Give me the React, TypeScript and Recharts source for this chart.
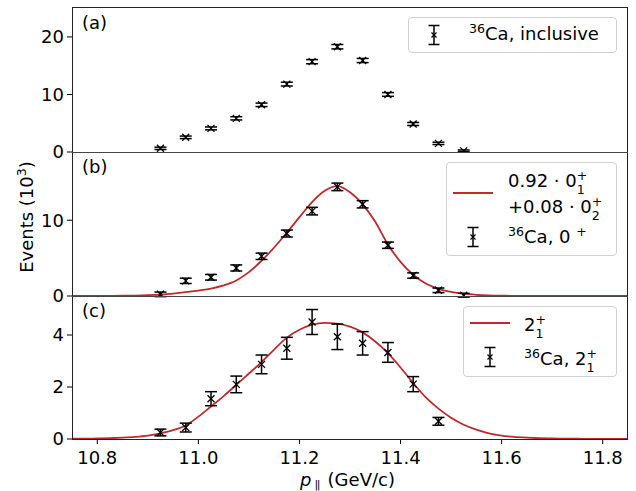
import React from "react";
import { ComposedChart, Line, Scatter, ErrorBar, XAxis, YAxis } from "recharts";

// bin centres (GeV/c)
const binX = [10.925, 10.975, 11.025, 11.075, 11.125, 11.175, 11.225, 11.275, 11.325, 11.375, 11.425, 11.475, 11.525];

// (a) inclusive, 10^3 events
const inclusive = [0.64, 2.55, 4.1, 5.85, 8.2, 11.8, 15.7, 18.3, 15.9, 10.0, 4.87, 1.5, 0.2];
const inclusiveErr = [0.2, 0.22, 0.25, 0.28, 0.3, 0.33, 0.36, 0.38, 0.36, 0.32, 0.26, 0.2, 0.15];

// (b) 0+
const zeroPlus = [0.22, 2.0, 2.47, 3.7, 5.24, 8.24, 11.2, 14.4, 12.1, 6.7, 2.7, 0.75, 0.1];
const zeroPlusErr = [0.3, 0.35, 0.37, 0.4, 0.42, 0.46, 0.5, 0.5, 0.48, 0.42, 0.35, 0.3, 0.25];

// (c) 2+
const twoPlus = [0.25, 0.44, 1.55, 2.1, 2.87, 3.49, 4.5, 3.93, 3.68, 3.33, 2.11, 0.68];
const twoPlusErr = [0.13, 0.17, 0.27, 0.32, 0.36, 0.42, 0.48, 0.49, 0.45, 0.38, 0.29, 0.15];

// fitted shapes
const curveX = [
  10.75, 10.775, 10.8, 10.825, 10.85, 10.875, 10.9, 10.925, 10.95, 10.975,
  11.0, 11.025, 11.05, 11.075, 11.1, 11.125, 11.15, 11.175, 11.2, 11.225,
  11.25, 11.275, 11.3, 11.325, 11.35, 11.375, 11.4, 11.425, 11.45, 11.475,
  11.5, 11.525, 11.55, 11.575, 11.6, 11.625, 11.65, 11.675, 11.7, 11.725,
  11.75, 11.775, 11.8, 11.825, 11.85,
];
const fitZero = [
  0, 0, 0.01, 0.02, 0.03, 0.06, 0.11, 0.19, 0.32, 0.5,
  0.72, 0.98, 1.4, 2.05, 3.15, 4.65, 6.4, 8.35, 10.4, 12.4,
  13.9, 14.5, 13.7, 12.1, 9.8, 6.8, 4.5, 2.8, 1.65, 0.95,
  0.55, 0.3, 0.16, 0.08, 0.04, 0.02, 0.01, 0, 0, 0,
  0, 0, 0, 0, 0,
];
const fitTwo = [
  0.01, 0.01, 0.02, 0.03, 0.05, 0.08, 0.13, 0.22, 0.34, 0.52,
  0.86, 1.25, 1.65, 2.08, 2.52, 2.96, 3.44, 3.9, 4.2, 4.4,
  4.47, 4.44, 4.32, 4.1, 3.75, 3.3, 2.75, 2.15, 1.6, 1.17,
  0.82, 0.55, 0.36, 0.22, 0.13, 0.08, 0.05, 0.03, 0.02, 0.01,
  0.01, 0, 0, 0, 0,
];

const xTicks = [10.8, 11.0, 11.2, 11.4, 11.6, 11.8];
const yTicksA = [0, 10, 20];
const yTicksB = [0, 10];
const yTicksC = [0, 2, 4];

const RED = "#bd2a2e";
const FONT = "'DejaVu Sans', sans-serif";
const PAD = 12; // extra svg room so edge tick labels are not cut

const toPoints = (vals: number[], errs: number[]) =>
  vals.map((v, i) => ({ x: binX[i], y: v, err: errs[i] }));
const toCurve = (vals: number[]) => curveX.map((x, i) => ({ x, y: vals[i] }));

function XMark(props: any) {
  const { cx, cy } = props;
  if (cx == null || cy == null) return null;
  const r = 3.5;
  return (
    <path
      d={`M${cx - r},${cy - r}L${cx + r},${cy + r}M${cx - r},${cy + r}L${cx + r},${cy - r}`}
      stroke="#000"
      strokeWidth={1.3}
      fill="none"
    />
  );
}

type PanelProps = {
  plotTop: number;
  plotHeight: number;
  bottomAxis: boolean;
  yDomain: [number, number];
  yTicks: number[];
  points: { x: number; y: number; err: number }[];
  fit?: { x: number; y: number }[];
};

function Panel({ plotTop, plotHeight, bottomAxis, yDomain, yTicks, points, fit }: PanelProps) {
  const axisH = bottomAxis ? 52 : 0;
  const bottom = bottomAxis ? 0 : PAD;
  return (
    <div style={{ position: "absolute", left: 0, top: plotTop - PAD }}>
      <ComposedChart
        width={636}
        height={PAD + plotHeight + axisH + bottom}
        margin={{ top: PAD, right: 8, bottom, left: 0 }}
      >
        <XAxis
          dataKey="x"
          type="number"
          domain={[10.75, 11.85]}
          ticks={xTicks}
          allowDataOverflow
          hide={!bottomAxis}
          height={axisH}
          axisLine={false}
          tickSize={5}
          tickMargin={7}
          tickLine={{ stroke: "#000" }}
          tick={{ fill: "#000", fontSize: 18, fontFamily: FONT }}
          tickFormatter={(v: number) => v.toFixed(1)}
        />
        <YAxis
          type="number"
          domain={yDomain}
          ticks={yTicks}
          interval={0}
          allowDataOverflow
          width={72}
          axisLine={false}
          tickSize={5}
          tickMargin={3}
          tickLine={{ stroke: "#000" }}
          tick={{ fill: "#000", fontSize: 18, fontFamily: FONT }}
        />
        {fit && (
          <Line
            data={fit}
            dataKey="y"
            type="monotone"
            stroke={RED}
            strokeWidth={1.8}
            dot={false}
            isAnimationActive={false}
          />
        )}
        <Scatter data={points} dataKey="y" shape={XMark} isAnimationActive={false}>
          <ErrorBar dataKey="err" direction="y" width={6} stroke="#000" strokeWidth={1.5} />
        </Scatter>
      </ComposedChart>
    </div>
  );
}

function ErrIcon() {
  return (
    <svg width={14} height={22} style={{ display: "block" }}>
      <path d="M7,1.5V20.5M1.5,1.5H12.5M1.5,20.5H12.5" stroke="#000" strokeWidth={1.5} fill="none" />
      <path d="M4.5,8.5L9.5,13.5M4.5,13.5L9.5,8.5" stroke="#000" strokeWidth={1.2} fill="none" />
    </svg>
  );
}

const Sup = ({ children }: { children: React.ReactNode }) => (
  <span style={{ fontSize: "0.7em", position: "relative", top: "-0.55em" }}>{children}</span>
);

function SupSub({ sup, sub }: { sup: string; sub: string }) {
  return (
    <span style={{ display: "inline-block", position: "relative", width: 11, height: 18 }}>
      <span style={{ position: "absolute", left: 0, top: 0, fontSize: 12.6, lineHeight: "13px" }}>{sup}</span>
      <span style={{ position: "absolute", left: 0, top: 14, fontSize: 12.6, lineHeight: "13px" }}>{sub}</span>
    </span>
  );
}

const abs = (left: number, top: number, extra: React.CSSProperties = {}): React.CSSProperties => ({
  position: "absolute",
  left,
  top,
  lineHeight: "18px",
  whiteSpace: "nowrap",
  ...extra,
});

const legendBox = (left: number, top: number, width: number, height: number): React.CSSProperties => ({
  position: "absolute",
  left,
  top,
  width,
  height,
  boxSizing: "border-box",
  border: "1px solid #d0d0d0",
  borderRadius: 4,
  background: "rgba(255,255,255,0.85)",
});

export default function App() {
  return (
    <div
      style={{
        position: "absolute",
        left: 0,
        top: 0,
        width: 636,
        height: 491,
        background: "#fff",
        fontFamily: FONT,
        fontSize: 18,
        color: "#000",
        overflow: "hidden",
      }}
    >
      <Panel plotTop={7} plotHeight={145} bottomAxis={false} yDomain={[0, 25.2]} yTicks={yTicksA}
        points={toPoints(inclusive, inclusiveErr)} />
      <Panel plotTop={152} plotHeight={144} bottomAxis={false} yDomain={[0, 19]} yTicks={yTicksB}
        points={toPoints(zeroPlus, zeroPlusErr)} fit={toCurve(fitZero)} />
      <Panel plotTop={296} plotHeight={143} bottomAxis={true} yDomain={[0, 5.5]} yTicks={yTicksC}
        points={toPoints(twoPlus, twoPlusErr)} fit={toCurve(fitTwo)} />

      {/* axes frames */}
      <div style={{ position: "absolute", left: 72, top: 7, width: 556, height: 433, boxSizing: "border-box", border: "1px solid #222" }} />
      <div style={{ position: "absolute", left: 72, top: 151.5, width: 556, height: 1, background: "#444" }} />
      <div style={{ position: "absolute", left: 72, top: 295.5, width: 556, height: 1, background: "#444" }} />

      {/* panel tags */}
      <div style={abs(82, 14)}>(a)</div>
      <div style={abs(82, 158)}>(b)</div>
      <div style={abs(82, 302)}>(c)</div>

      {/* legend (a) */}
      <div style={legendBox(408, 17, 209, 36)} />
      <div style={{ position: "absolute", left: 427, top: 24 }}><ErrIcon /></div>
      <div style={abs(469, 25)}><Sup>36</Sup>Ca, inclusive</div>

      {/* legend (b) */}
      <div style={legendBox(446, 162, 171, 94)} />
      <div style={{ position: "absolute", left: 453, top: 192, width: 40, height: 2, background: RED }} />
      <div style={abs(508, 169)}>0.92 · 0<SupSub sup="+" sub="1" /></div>
      <div style={abs(508, 195)}>+0.08 · 0<SupSub sup="+" sub="2" /></div>
      <div style={{ position: "absolute", left: 466, top: 226 }}><ErrIcon /></div>
      <div style={abs(508, 228)}><Sup>36</Sup>Ca, 0 <Sup>+</Sup></div>

      {/* legend (c) */}
      <div style={legendBox(463, 306, 154, 71)} />
      <div style={{ position: "absolute", left: 470, top: 322, width: 40, height: 2, background: RED }} />
      <div style={abs(524, 313)}>2<SupSub sup="+" sub="1" /></div>
      <div style={{ position: "absolute", left: 483, top: 346 }}><ErrIcon /></div>
      <div style={abs(524, 347)}><Sup>36</Sup>Ca, 2<SupSub sup="+" sub="1" /></div>

      {/* axis titles */}
      <div style={abs(300, 471, { lineHeight: "17px" })}>
        <i>p</i>
        <span style={{ fontSize: 11, letterSpacing: -1.5, position: "relative", top: 2, marginLeft: 3, marginRight: 3 }}>||</span>
        {" "}(GeV/c)
      </div>
      <div
        style={{
          position: "absolute",
          left: 26.5 - 70,
          top: 217 - 9,
          width: 140,
          height: 18,
          lineHeight: "18px",
          textAlign: "center",
          transform: "rotate(-90deg)",
          whiteSpace: "nowrap",
        }}
      >
        Events (10<Sup>3</Sup>)
      </div>
    </div>
  );
}
